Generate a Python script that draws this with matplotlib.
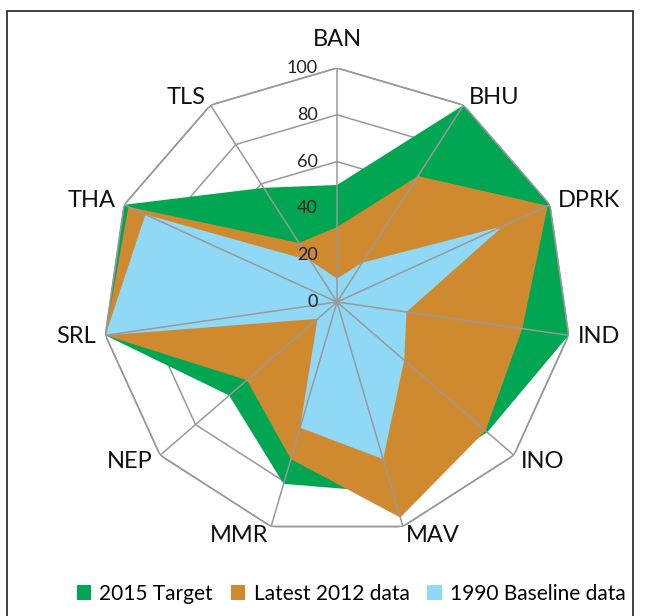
import matplotlib.pyplot as plt
import numpy as np
from matplotlib.patches import Patch, Rectangle

plt.rcParams['font.family'] = ['Lato', 'DejaVu Sans']

# values
categories = ['BAN', 'BHU', 'DPRK', 'IND', 'INO', 'MAV', 'MMR', 'NEP', 'SRL', 'THA', 'TLS']
target_2015 = [50, 100, 100, 100, 85, 85, 81, 61, 100, 100, 58]
latest_2012 = [32, 64, 99, 80, 84, 96, 70, 51, 100, 98, 30]
baseline_1990 = [10, 20, 78, 30, 38, 70, 56, 11, 100, 90, 21]
ticks = [0, 20, 40, 60, 80, 100]

series = [
    ('2015 Target', target_2015, '#00a651'),
    ('Latest 2012 data', latest_2012, '#cf8a30'),
    ('1990 Baseline data', baseline_1990, '#8fd9f7'),
]

W, H = 664, 616
fig = plt.figure(figsize=(W / 100, H / 100), dpi=100)
cx, cy, rad = 337, 302, 234
ax = fig.add_axes([(cx - rad) / W, (H - cy - rad) / H, 2 * rad / W, 2 * rad / H],
                  projection='polar')
ax.set_theta_offset(np.pi / 2)
ax.set_theta_direction(-1)
ax.set_ylim(0, 100)
ax.set_axis_off()

n = len(categories)
theta = np.arange(n) * 2 * np.pi / n
theta_c = np.append(theta, theta[0])

grid_col = '#999999'
# rings sit under the filled areas, spokes on top
for t in ticks[1:]:
    ax.plot(theta_c, [t] * (n + 1), color=grid_col, lw=1.1, zorder=1)

for name, vals, col in series:
    v = np.append(vals, vals[0])
    ax.fill(theta_c, v, color=col, lw=0, zorder=2)

ax.plot(theta_c, [100] * (n + 1), color=grid_col, lw=1.1, zorder=3)
for th in theta:
    ax.plot([th, th], [0, 100], color=grid_col, lw=1.1, zorder=3)

for t in ticks:
    ax.annotate(str(t), xy=(0, t), xytext=(-14, 0), textcoords='offset points',
                ha='right', va='center', fontsize=13, color='#222222', zorder=4)

for th, lab in zip(theta, categories):
    s = np.sin(th)
    if abs(s) < 0.1:
        ha, r = 'center', 112
    else:
        ha, r = ('left' if s > 0 else 'right'), 104
    ax.text(th, r, lab, ha=ha, va='center', fontsize=17, color='#111111')

handles = [Patch(facecolor=c, edgecolor='none', label=nm) for nm, _, c in series]
fig.legend(handles=handles, loc='center', bbox_to_anchor=(0.529, 0.036), ncol=3,
           frameon=False, fontsize=15, handlelength=0.7, handleheight=0.7,
           handletextpad=0.4, columnspacing=0.85, borderaxespad=0)

fig.patches.append(Rectangle((7 / W, -0.02), (633 - 7) / W, 1 - 11 / H + 0.02,
                             transform=fig.transFigure, fill=False,
                             edgecolor='#333333', lw=1.3))

fig.savefig('out.png', dpi=100)
